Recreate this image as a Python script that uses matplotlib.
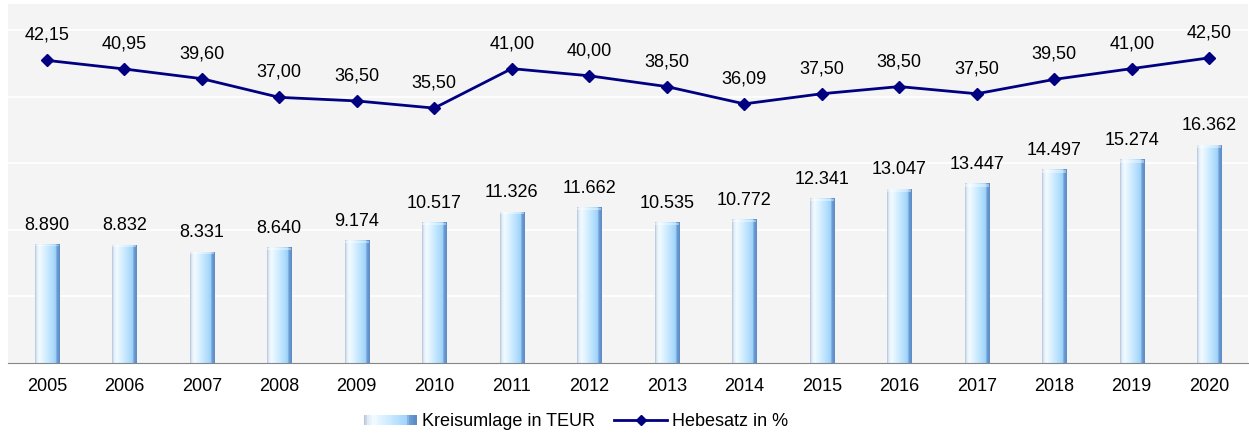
import numpy as np
import matplotlib
matplotlib.use("Agg")
import matplotlib.pyplot as plt
from matplotlib.colors import LinearSegmentedColormap
from matplotlib.patches import Rectangle
from matplotlib.lines import Line2D
from matplotlib.legend_handler import HandlerBase

plt.rcParams['font.family'] = ['Liberation Sans', 'DejaVu Sans']

# data
years = ['2005', '2006', '2007', '2008', '2009', '2010', '2011', '2012',
         '2013', '2014', '2015', '2016', '2017', '2018', '2019', '2020']
kreisumlage = [8890, 8832, 8331, 8640, 9174, 10517, 11326, 11662,
               10535, 10772, 12341, 13047, 13447, 14497, 15274, 16362]
hebesatz = [42.15, 40.95, 39.60, 37.00, 36.50, 35.50, 41.00, 40.00,
            38.50, 36.09, 37.50, 38.50, 37.50, 39.50, 41.00, 42.50]

bar_cmap = LinearSegmentedColormap.from_list('bar', [
    (0.0, '#b4c4da'), (0.07, '#e2edf7'), (0.18, '#f2fbff'),
    (0.55, '#c4e7ff'), (0.84, '#9fd3fa'), (0.88, '#6f9fd6'), (1.0, '#5d8bc6')])
line_col = '#000080'
fs = 13

fig = plt.figure(figsize=(12.49, 4.34), dpi=100)
ax = fig.add_axes([8 / 1249, 71 / 434, 1240 / 1249, 359 / 434])
ax.set_facecolor('#f4f4f4')
x = np.arange(len(years))

bars = ax.bar(x, kreisumlage, width=0.31, color='none', edgecolor='none', zorder=2)
grad = np.linspace(0, 1, 64).reshape(1, -1)
for b in bars:
    x0, w, h = b.get_x(), b.get_width(), b.get_height()
    ax.imshow(grad, cmap=bar_cmap, aspect='auto', extent=(x0, x0 + w, 0, h),
              zorder=2, interpolation='bilinear')
    ax.add_patch(Rectangle((x0, h * 0.985), w, h * 0.015, facecolor='white',
                           alpha=0.4, edgecolor='none', zorder=3))
ax.set_xlim(-0.5, len(years) - 0.5)
ax.set_ylim(0, 26950)

for v, xi in zip(kreisumlage, x):
    ax.annotate(f'{v:,}'.replace(',', '.'), (xi, v), xytext=(0, 14),
                textcoords='offset points', ha='center', va='center', fontsize=fs)

ax.set_yticks([5000, 10000, 15000, 20000, 25000])
ax.yaxis.grid(True, color='white', linewidth=1.2)
ax.set_axisbelow(True)
ax.set_xticks(x)
ax.set_xticklabels(years)
for s in ['top', 'left', 'right']:
    ax.spines[s].set_visible(False)
ax.spines['bottom'].set_color('#868686')

ax2 = ax.twinx()
ax2.plot(x, hebesatz, color=line_col, linewidth=2, marker='D', markersize=6, zorder=4)
ax2.set_ylim(0, 50)
ax2.axis('off')
for v, xi in zip(hebesatz, x):
    ax2.annotate(f'{v:.2f}'.replace('.', ','), (xi, v), xytext=(0, 18),
                 textcoords='offset points', ha='center', va='center', fontsize=fs)

ax.tick_params(axis='y', left=False, right=False, labelleft=False, labelright=False)
ax.tick_params(axis='x', length=0, pad=11, labelsize=fs)


class GradHandler(HandlerBase):
    def create_artists(self, legend, orig, xd, yd, width, height, fontsize, trans):
        arts = []
        n = 30
        for i in range(n):
            arts.append(Rectangle((xd + width * i / n, yd + height * 0.1), width / n + 0.3,
                                  height * 0.8, facecolor=bar_cmap(i / (n - 1)),
                                  edgecolor='none', transform=trans))
        return arts


h1 = Rectangle((0, 0), 1, 1)
h2 = Line2D([], [], color=line_col, linewidth=2, marker='D', markersize=5)
fig.legend([h1, h2], ['Kreisumlage in TEUR', 'Hebesatz in %'],
           handler_map={h1: GradHandler()}, loc='center',
           bbox_to_anchor=(576 / 1249, 1 - 422 / 434), ncol=2, frameon=False,
           fontsize=fs, handlelength=2.9, handletextpad=0.3, columnspacing=1.1)

fig.savefig('out.png', dpi=100)
